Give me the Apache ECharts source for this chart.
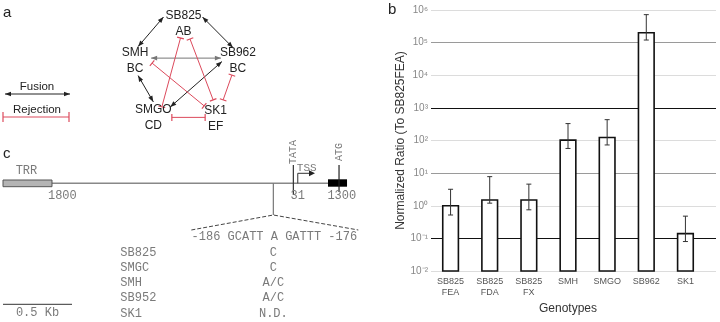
<!DOCTYPE html>
<html>
<head>
<meta charset="utf-8">
<script src="https://cdn.jsdelivr.net/npm/echarts@6/dist/echarts.min.js"></script>
<style>
html, body { margin: 0; padding: 0; background: #fff; }
#main { width: 720px; height: 322px; }
</style>
</head>
<body>
<div id="main"></div>
<script>
// ---- panel b : expression ratio (log scale) ----
var genotypes = ['SB825\nFEA', 'SB825\nFDA', 'SB825\nFX', 'SMH', 'SMGO', 'SB962', 'SK1'];
var ratio = [1.0, 1.5, 1.5, 103, 124, 200000, 0.14];
var errLow = [0.52, 1.2, 0.75, 57, 73, 120000, 0.08];
var errHigh = [3.2, 7.8, 4.6, 330, 435, 720000, 0.48];

// ---- panel a : fusion / rejection network ----
var strains = ['SB825', 'SB962', 'SK1', 'SMGO', 'SMH'];
var groups = ['AB', 'BC', 'EF', 'CD', 'BC'];
var fusion = [[0, 4], [0, 1], [4, 1], [4, 3], [3, 1]];
var rejection = [[0, 3], [0, 2], [4, 2], [1, 2], [3, 2]];
var legendItems = ['Fusion', 'Rejection'];

// ---- panel c : promoter map (kb from TRR start) ----
var trrKb = [0, 0.355];
var atgKb = [2.355, 2.493];
var atgSiteKb = 2.435;
var snpKb = 1.959;
var tataKb = 2.104;
var tssKb = 2.136;
var scaleKb = 0.5;
var seqStrains = ['SB825', 'SMGC', 'SMH', 'SB952', 'SK1'];
var seqAllele = ['C', 'C', 'A/C', 'A/C', 'N.D.'];

var RED = '#dc4a5c';
var DARK = '#222';

// pentagon layout for panel a (diagram units = px of that grid)
var pent = { cx: 184.5, cy: 69, r: 53 };
function vertex(i) {
    var ang = -Math.PI / 2 + i * 2 * Math.PI / 5;
    return [pent.cx + pent.r * Math.cos(ang), pent.cy + pent.r * Math.sin(ang)];
}
var labelShift = [[-1, 0], [3, 0], [0, -1], [0, -2], [1, 0]];
// where each edge leaves / reaches its nodes
var fusionPorts = [[[-21, 1], [4, -6]], [[18, 1], [-2, -5]], [[17, 5.5], [-14, 5.5]], [[4, 23], [0, -10]], [[17, -5], [-13, 9]]];
var rejectPorts = [[[-4, 22], [8.5, -5]], [[5.5, 23], [-2.5, -12]], [[18, 10.5], [-11.5, -6]], [[-3, 22.5], [7.5, -12]], [[18.5, 5.5], [-10.5, 5.5]]];

function edgeParts(p0, p1, kind, color, cap) {
    var dx = p1[0] - p0[0], dy = p1[1] - p0[1];
    var len = Math.sqrt(dx * dx + dy * dy);
    var ux = dx / len, uy = dy / len, nx = -uy, ny = ux;
    var out = [{
        type: 'line',
        shape: { x1: p0[0], y1: p0[1], x2: p1[0], y2: p1[1] },
        style: { stroke: color, lineWidth: 1 }
    }];
    if (kind === 'fusion') {
        [[p0, 1], [p1, -1]].forEach(function (e) {
            var t = e[0], s = e[1];
            var bx = t[0] + s * ux * 6, by = t[1] + s * uy * 6;
            out.push({
                type: 'polygon',
                shape: { points: [[t[0], t[1]], [bx + nx * 2.3, by + ny * 2.3], [bx - nx * 2.3, by - ny * 2.3]] },
                style: { fill: color }
            });
        });
    } else {
        [p0, p1].forEach(function (t) {
            out.push({
                type: 'line',
                shape: { x1: t[0] + nx * cap, y1: t[1] + ny * cap, x2: t[0] - nx * cap, y2: t[1] - ny * cap },
                style: { stroke: color, lineWidth: 1.2 }
            });
        });
    }
    return out;
}

function renderEdges(kind, pairs, ports) {
    return function (params, api) {
        var k = params.dataIndex;
        var a = vertex(pairs[k][0]), b = vertex(pairs[k][1]);
        var pa = api.coord([a[0] + ports[k][0][0], a[1] + ports[k][0][1]]);
        var pb = api.coord([b[0] + ports[k][1][0], b[1] + ports[k][1][1]]);
        var color = kind === 'fusion' ? (k === 2 ? '#777' : DARK) : RED;
        return { type: 'group', children: edgeParts(pa, pb, kind, color, 3.5) };
    };
}

function renderNode(params, api) {
    var i = params.dataIndex;
    var v = vertex(i);
    var p = api.coord([v[0] + labelShift[i][0], v[1] + labelShift[i][1]]);
    var font = { fontSize: 12, fontFamily: 'Liberation Sans, Arial', fill: DARK, align: 'center', verticalAlign: 'middle' };
    return {
        type: 'group',
        children: [
            { type: 'text', x: p[0], y: p[1], style: Object.assign({ text: strains[i] }, font) },
            { type: 'text', x: p[0], y: p[1] + 16, style: Object.assign({ text: groups[i] }, font) }
        ]
    };
}

function renderLegend(params, api) {
    var i = params.dataIndex;
    var y = 94 + i * 23;
    var p0 = api.coord([i === 0 ? 5 : 3, y]);
    var p1 = api.coord([i === 0 ? 70 : 69, y]);
    var t = api.coord([37, y - 7.5]);
    var parts = edgeParts(p0, p1, i === 0 ? 'fusion' : 'rejection', i === 0 ? DARK : RED, 5);
    parts.push({
        type: 'text', x: t[0], y: t[1],
        style: { text: legendItems[i], fontSize: 11.5, fontFamily: 'Liberation Sans, Arial', fill: DARK, align: 'center', verticalAlign: 'middle' }
    });
    return { type: 'group', children: parts };
}

function renderBar(params, api) {
    var i = api.value(0);
    var top = api.coord([i, api.value(1)]);
    var base = api.coord([i, 0.01]);
    var lo = api.coord([i, api.value(2)]);
    var hi = api.coord([i, api.value(3)]);
    var w = api.size([1, 1])[0] * 0.4;
    return {
        type: 'group',
        children: [
            { type: 'rect', shape: { x: top[0] - w / 2, y: top[1], width: w, height: base[1] - top[1] },
              style: { fill: '#fff', stroke: '#111', lineWidth: 1.6 } },
            { type: 'line', shape: { x1: hi[0], y1: hi[1], x2: lo[0], y2: lo[1] }, style: { stroke: '#333', lineWidth: 1 } },
            { type: 'line', shape: { x1: hi[0] - 2.5, y1: hi[1], x2: hi[0] + 2.5, y2: hi[1] }, style: { stroke: '#333', lineWidth: 1 } },
            { type: 'line', shape: { x1: lo[0] - 2.5, y1: lo[1], x2: lo[0] + 2.5, y2: lo[1] }, style: { stroke: '#333', lineWidth: 1 } }
        ]
    };
}

var mono = { fontFamily: 'Liberation Mono, Courier New, monospace', fontSize: 12, fill: '#7a7a7a' };
function txt(p, s, align, rot, size) {
    var el = { type: 'text', x: p[0], y: p[1], style: Object.assign({ text: s, align: align || 'center', verticalAlign: 'middle' }, mono) };
    if (size) el.style.fontSize = size;
    if (rot) el.rotation = rot;
    return el;
}

function renderMap(params, api) {
    function P(kb, y) { return api.coord([kb, y]); }
    var c = [];
    var yLine = 43.3;
    var l0 = P(trrKb[1], yLine), l1 = P(atgKb[0], yLine);
    c.push({ type: 'line', shape: { x1: l0[0], y1: l0[1], x2: l1[0], y2: l1[1] }, style: { stroke: '#888', lineWidth: 1.5 } });
    var t0 = P(trrKb[0], 40), t1 = P(trrKb[1], 46.7);
    c.push({ type: 'rect', shape: { x: t0[0], y: t0[1], width: t1[0] - t0[0], height: t1[1] - t0[1] }, style: { fill: '#b4b4b4', stroke: '#555', lineWidth: 1 } });
    var a0 = P(atgKb[0], 39.3), a1 = P(atgKb[1], 46.7);
    c.push({ type: 'rect', shape: { x: a0[0], y: a0[1], width: a1[0] - a0[0], height: a1[1] - a0[1] }, style: { fill: '#000' } });
    // ATG and TATA ticks
    var g0 = P(atgSiteKb, 25), g1 = P(atgSiteKb, 52);
    c.push({ type: 'line', shape: { x1: g0[0], y1: g0[1], x2: g1[0], y2: g1[1] }, style: { stroke: '#222', lineWidth: 1.2 } });
    var ta0 = P(tataKb, 25), ta1 = P(tataKb, 55);
    c.push({ type: 'line', shape: { x1: ta0[0], y1: ta0[1], x2: ta1[0], y2: ta1[1] }, style: { stroke: '#333', lineWidth: 1.2 } });
    // TSS bent arrow
    var s0 = P(tssKb, yLine), s1 = P(tssKb, 33.3), s2 = P(tssKb + 0.125, 33.3);
    c.push({ type: 'polyline', shape: { points: [s0, s1, [s2[0] - 5, s2[1]]] }, style: { stroke: '#333', lineWidth: 1, fill: null } });
    c.push({ type: 'polygon', shape: { points: [[s2[0], s2[1]], [s2[0] - 6, s2[1] - 3], [s2[0] - 6, s2[1] + 3]] }, style: { fill: '#222' } });
    // SNP drop and dashed fan
    var n0 = P(snpKb, yLine), n1 = P(snpKb, 75);
    c.push({ type: 'line', shape: { x1: n0[0], y1: n0[1], x2: n1[0], y2: n1[1] }, style: { stroke: '#777', lineWidth: 1.2 } });
    var fanL = [n1[0] - 82, n1[1] + 15], fanR = [n1[0] + 85, n1[1] + 15];
    c.push({ type: 'polyline', shape: { points: [fanL, [n1[0], n1[1]], fanR] }, style: { stroke: '#444', lineWidth: 1, lineDash: [4, 2], fill: null } });
    // labels
    c.push(txt(P(0.17, 31), 'TRR'));
    c.push(txt(P(0.43, 56), '1800'));
    c.push(txt(P(tssKb, 56), '31'));
    c.push(txt(P(atgSiteKb + 0.02, 56), '1300'));
    c.push(txt(P(tssKb + 0.065, 28), 'TSS', 'center', 0, 11));
    c.push(txt(P(tataKb, 12), 'TATA', 'center', Math.PI / 2, 10));
    c.push(txt(P(atgSiteKb, 12), 'ATG', 'center', Math.PI / 2, 10));
    c.push(txt([n1[0] + 1, n1[1] + 22], '-186 GCATT A GATTT -176'));
    seqStrains.forEach(function (s, k) {
        var y = n1[1] + 37.5 + k * 15.25;
        c.push(txt([n1[0] - 153, y], s, 'left'));
        c.push(txt([n1[0], y], seqAllele[k]));
    });
    // scale bar
    var b0 = P(0, 164.3), b1 = P(scaleKb, 164.3);
    c.push({ type: 'line', shape: { x1: b0[0], y1: b0[1], x2: b1[0], y2: b1[1] }, style: { stroke: '#333', lineWidth: 1 } });
    c.push(txt(P(scaleKb / 2, 173.3), (scaleKb).toFixed(1) + ' Kb'));
    return { type: 'group', children: c };
}

var supDigits = { '0': '⁰', '1': '¹', '2': '²', '3': '³', '4': '⁴', '5': '⁵', '6': '⁶', '7': '⁷', '8': '⁸', '9': '⁹', '-': '⁻' };
function powLabel(v) {
    var e = String(Math.round(Math.log10(v)));
    return '10' + e.split('').map(function (ch) { return supDigits[ch]; }).join('');
}

var chart = echarts.init(document.getElementById('main'));
var option = {
    animation: false,
    backgroundColor: '#fff',
    textStyle: { fontFamily: 'Liberation Sans, Arial' },
    grid: [
        { left: 431, top: 10, width: 274, height: 261 },
        { left: 431, top: 10, right: 4, height: 261 },
        { left: 0, top: 0, width: 240, height: 140 },
        { left: 3, top: 140, width: 377, height: 182 }
    ],
    xAxis: [
        {
            gridIndex: 0, type: 'category', data: genotypes,
            axisLine: { show: false }, axisTick: { show: false },
            axisLabel: { interval: 0, fontSize: 9, lineHeight: 11, color: '#555', margin: 5 },
            name: 'Genotypes', nameLocation: 'middle', nameGap: 30,
            nameTextStyle: { fontSize: 12, color: '#333' }
        },
        { gridIndex: 1, type: 'value', show: false },
        { gridIndex: 2, type: 'value', min: 0, max: 240, show: false },
        { gridIndex: 3, type: 'value', min: 0, max: 377 / 138, show: false }
    ],
    yAxis: [
        {
            gridIndex: 0, type: 'log', logBase: 10, min: 0.01, max: 1e6, splitNumber: 8, interval: 1,
            axisLine: { show: false }, axisTick: { show: false }, splitLine: { show: false },
            axisLabel: { fontSize: 10, color: '#888', margin: 3, formatter: powLabel },
            name: 'Normalized Ratio (To SB825FEA)', nameLocation: 'middle', nameGap: 24,
            nameTextStyle: { fontSize: 12, color: '#333' }
        },
        {
            gridIndex: 1, type: 'log', logBase: 10, min: 0.01, max: 1e6, splitNumber: 8, interval: 1,
            axisLine: { show: false }, axisTick: { show: false }, axisLabel: { show: false },
            splitLine: { show: true, lineStyle: { width: 1.2, color: ['#dcdcdc', '#111', '#dcdcdc', '#9a9a9a'] } }
        },
        { gridIndex: 2, type: 'value', min: 0, max: 140, inverse: true, show: false },
        { gridIndex: 3, type: 'value', min: 0, max: 182, inverse: true, show: false }
    ],
    series: [
        {
            type: 'custom', name: 'ratio', xAxisIndex: 0, yAxisIndex: 0,
            renderItem: renderBar, encode: { x: 0, y: 1 },
            data: ratio.map(function (v, i) { return [i, v, errLow[i], errHigh[i]]; }),
            z: 3
        },
        {
            type: 'custom', name: 'fusion', xAxisIndex: 2, yAxisIndex: 2,
            renderItem: renderEdges('fusion', fusion, fusionPorts),
            data: fusion.map(function (p) { return [p[0], p[1]]; })
        },
        {
            type: 'custom', name: 'rejection', xAxisIndex: 2, yAxisIndex: 2,
            renderItem: renderEdges('rejection', rejection, rejectPorts),
            data: rejection.map(function (p) { return [p[0], p[1]]; })
        },
        {
            type: 'custom', name: 'strains', xAxisIndex: 2, yAxisIndex: 2,
            renderItem: renderNode,
            data: strains.map(function (s, i) { return [i, 0]; })
        },
        {
            type: 'custom', name: 'legend', xAxisIndex: 2, yAxisIndex: 2,
            renderItem: renderLegend,
            data: legendItems.map(function (s, i) { return [i, 0]; })
        },
        {
            type: 'custom', name: 'map', xAxisIndex: 3, yAxisIndex: 3,
            renderItem: renderMap,
            data: [[0, 0]]
        }
    ],
    graphic: [
        { type: 'text', left: 3, top: 5, style: { text: 'a', fontSize: 15, fill: '#222', fontFamily: 'Liberation Sans, Arial' } },
        { type: 'text', left: 388, top: 2, style: { text: 'b', fontSize: 15, fill: '#222', fontFamily: 'Liberation Sans, Arial' } },
        { type: 'text', left: 3, top: 146, style: { text: 'c', fontSize: 15, fill: '#222', fontFamily: 'Liberation Sans, Arial' } }
    ]
};
chart.setOption(option);
</script>
</body>
</html>
